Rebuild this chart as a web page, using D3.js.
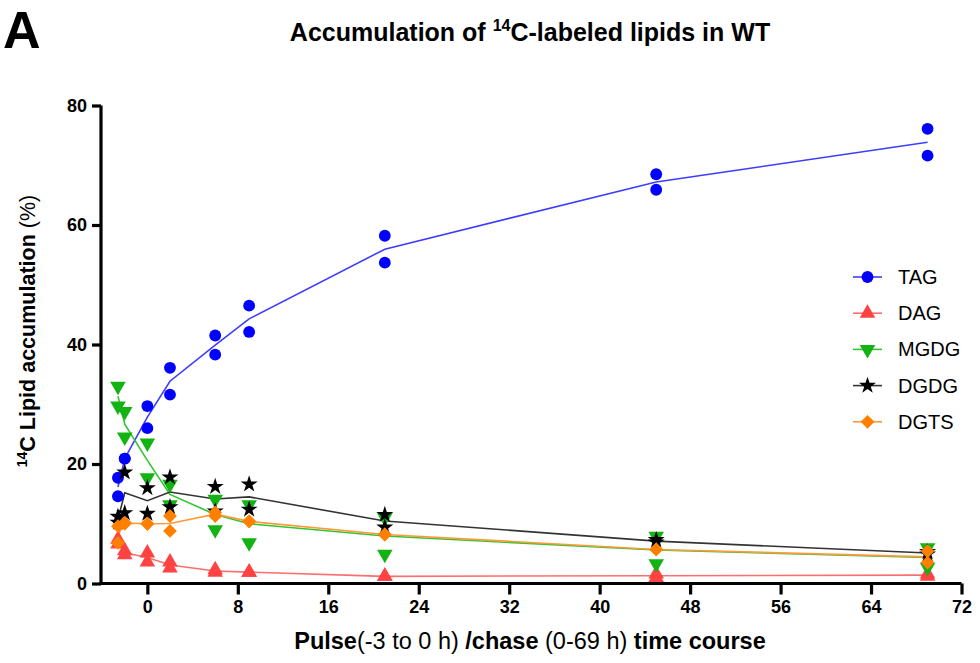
<!DOCTYPE html>
<html>
<head>
<meta charset="utf-8">
<script src="https://cdn.jsdelivr.net/npm/d3@7"></script>
<style>
  body { margin: 0; background: #fff; }
  text { font-family: "Liberation Sans", Arial, sans-serif; }
</style>
</head>
<body>
<script>
// DATA -- time points (h) and two replicates per lipid class
var times = [-2.6, -2, 0, 2, 6, 9, 21, 45, 69];
var xTicks = [0, 8, 16, 24, 32, 40, 48, 56, 64, 72];
var yTicks = [0, 20, 40, 60, 80];

var tagRep1  = [14.6, 20.9, 26.0, 31.6, 38.3, 42.1, 53.7, 65.9, 71.6];
var tagRep2  = [17.7, 20.9, 29.7, 36.1, 41.5, 46.5, 58.2, 68.5, 76.1];
var dagRep1  = [7.4, 5.5, 5.1, 3.6, 2.3, 1.9, 1.2, 1.0, 1.2];
var dagRep2  = [6.6, 4.8, 3.6, 2.6, 1.9, 1.9, 1.2, 1.6, 1.6];
var mgdgRep1 = [33.0, 28.8, 23.5, 16.6, 14.1, 13.2, 11.0, 7.9, 6.0];
var mgdgRep2 = [29.7, 24.5, 17.7, 13.2, 9.0, 6.8, 4.9, 3.3, 2.7];
var dgdgRep1 = [10.2, 18.6, 16.0, 17.8, 16.2, 16.6, 11.5, 7.3, 5.3];
var dgdgRep2 = [11.2, 11.8, 11.7, 12.8, 12.1, 12.4, 9.4, 6.9, 4.9];
var dgtsRep1 = [9.6, 10.2, 10.0, 11.3, 11.9, 10.4, 8.2, 5.7, 5.4];
var dgtsRep2 = [6.8, 10.0, 10.0, 8.8, 11.3, 10.4, 8.2, 5.7, 3.5];

var seriesNames = ['TAG', 'DAG', 'MGDG', 'DGDG', 'DGTS'];

// STYLE SETTINGS
var settings = {
   width: 980,
   height: 663,
   plot: { left: 101, right: 961.5, top: 105.5, bottom: 583.5 },
   marker: { TAG: '#0000ff', DAG: '#ff4343', MGDG: '#12b312', DGDG: '#000000', DGTS: '#ff8000' },
   line:   { TAG: '#3d3dff', DAG: '#ff6e6e', MGDG: '#33c433', DGDG: '#333333', DGTS: '#ff9a3a' },
   symbol: { TAG: 'circle', DAG: 'up', MGDG: 'down', DGDG: 'star', DGTS: 'diamond' }
};

var reps = {
   TAG: [tagRep1, tagRep2],
   DAG: [dagRep1, dagRep2],
   MGDG: [mgdgRep1, mgdgRep2],
   DGDG: [dgdgRep1, dgdgRep2],
   DGTS: [dgtsRep1, dgtsRep2]
};

// SVG
var svg = d3.select('body').append('svg')
   .attr('width', settings.width)
   .attr('height', settings.height);

// SCALES
var x = d3.scaleLinear().domain([-4.1, 72]).range([settings.plot.left, settings.plot.right]);
var y = d3.scaleLinear().domain([0, 80]).range([settings.plot.bottom, settings.plot.top]);

// SYMBOL PATH HELPER
function symbolPath(kind) {
   if (kind === 'circle') return d3.symbol(d3.symbolCircle, 110)();
   if (kind === 'up' || kind === 'down') return d3.symbol(d3.symbolTriangle, 105)();
   if (kind === 'star') return d3.symbol(d3.symbolStar, 90)();
   return d3.symbol(d3.symbolSquare, 95)();
}
function symbolRotate(kind) {
   if (kind === 'down') return 180;
   if (kind === 'diamond') return 45;
   return 0;
}

// LINES THROUGH MEANS
var lineGen = d3.line().x(function(d) { return x(d[0]); }).y(function(d) { return y(d[1]); });

seriesNames.forEach(function(name) {
   var r = reps[name];
   var means = times.map(function(t, i) { return [t, (r[0][i] + r[1][i]) / 2]; });
   svg.append('path')
      .attr('d', lineGen(means))
      .attr('fill', 'none')
      .attr('stroke', settings.line[name])
      .attr('stroke-width', 1.6);
});

// MARKERS
seriesNames.forEach(function(name) {
   var pts = [];
   reps[name].forEach(function(arr) {
      arr.forEach(function(v, i) { pts.push([times[i], v]); });
   });
   svg.append('g').selectAll('path').data(pts).enter().append('path')
      .attr('d', symbolPath(settings.symbol[name]))
      .attr('transform', function(d) {
         return 'translate(' + x(d[0]) + ',' + y(d[1]) + ') rotate(' + symbolRotate(settings.symbol[name]) + ')';
      })
      .attr('fill', settings.marker[name]);
});

// AXES
var xAxis = svg.append('g')
   .attr('transform', 'translate(0,' + settings.plot.bottom + ')')
   .call(d3.axisBottom(x).tickValues(xTicks).tickSize(11).tickPadding(6).tickSizeOuter(0));
var yAxis = svg.append('g')
   .attr('transform', 'translate(' + settings.plot.left + ',0)')
   .call(d3.axisLeft(y).tickValues(yTicks).tickSize(9).tickPadding(5).tickSizeOuter(0));

[xAxis, yAxis].forEach(function(a) {
   a.select('.domain').attr('stroke', '#000').attr('stroke-width', 3.2);
   a.selectAll('.tick line').attr('stroke', '#000').attr('stroke-width', 3.2);
   a.selectAll('.tick text')
      .attr('fill', '#000')
      .attr('font-size', 18)
      .attr('font-weight', 'bold')
      .attr('font-family', '"Liberation Sans", Arial, sans-serif');
});
// extend domains to meet in the corner
xAxis.select('.domain').attr('d', 'M' + (settings.plot.left - 1.6) + ',0H' + settings.plot.right);
yAxis.select('.domain').attr('d', 'M0,' + (settings.plot.bottom + 1.6) + 'V' + settings.plot.top);

// PANEL LETTER
svg.append('text')
   .attr('x', 3).attr('y', 48)
   .attr('font-size', 52).attr('font-weight', 'bold')
   .text('A');

// TITLE
var title = svg.append('text')
   .attr('x', 530).attr('y', 41)
   .attr('text-anchor', 'middle')
   .attr('font-size', 25).attr('font-weight', 'bold');
title.append('tspan').text('Accumulation of ');
title.append('tspan').attr('font-size', 16).attr('dy', -10).text('14');
title.append('tspan').attr('dy', 10).text('C-labeled lipids in WT');

// Y LABEL
var yLab = svg.append('text')
   .attr('transform', 'translate(35,331) rotate(-90)')
   .attr('text-anchor', 'middle')
   .attr('font-size', 21.5);
yLab.append('tspan').attr('font-size', 14).attr('font-weight', 'bold').attr('dy', -8).text('14');
yLab.append('tspan').attr('font-weight', 'bold').attr('dy', 8).text('C Lipid accumulation ');
yLab.append('tspan').text('(%)');

// X LABEL
var xLab = svg.append('text')
   .attr('x', 530).attr('y', 649)
   .attr('text-anchor', 'middle')
   .attr('font-size', 23.5);
xLab.append('tspan').attr('font-weight', 'bold').text('Pulse');
xLab.append('tspan').text('(-3 to 0 h) ');
xLab.append('tspan').attr('font-weight', 'bold').text('/chase');
xLab.append('tspan').text(' (0-69 h) ');
xLab.append('tspan').attr('font-weight', 'bold').text('time course');

// LEGEND
var legend = svg.append('g');
seriesNames.forEach(function(name, i) {
   var ly = 277 + i * 36.2;
   legend.append('line')
      .attr('x1', 853).attr('x2', 882).attr('y1', ly).attr('y2', ly)
      .attr('stroke', settings.line[name]).attr('stroke-width', 1.6);
   legend.append('path')
      .attr('d', symbolPath(settings.symbol[name]))
      .attr('transform', 'translate(867.5,' + ly + ') rotate(' + symbolRotate(settings.symbol[name]) + ')')
      .attr('fill', settings.marker[name]);
   legend.append('text')
      .attr('x', 898).attr('y', ly + 7)
      .attr('font-size', 20)
      .text(name);
});
</script>
</body>
</html>
